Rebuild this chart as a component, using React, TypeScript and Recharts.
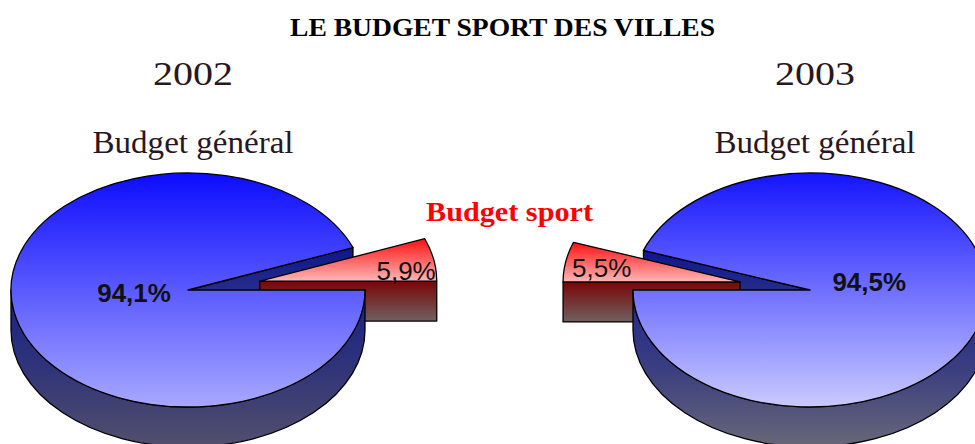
import React from "react";
import { PieChart, Pie } from "recharts";

const W = 975;
const H = 444;

// data
const years = ["2002", "2003"];
const sportShare = [5.9, 5.5];
const generalShare = [94.1, 94.5];
const sliceNames = ["Budget sport", "Budget général"];

// fake 3D: ellipse squash and wall depth
const TILT = 0.661;
const DEPTH = 40;

const charts = [
  {
    cx: 188, startAngle: 0, endAngle: 360, explode: 73,
    top: "topL", wall: "wallL", face: "faceL",
    labelR: 0.31, labelDy: 5, sportPad: 1, sportDy: -1,
  },
  {
    cx: 810, startAngle: 180, endAngle: -180, explode: 71,
    top: "topR", wall: "wallR", face: "faceR",
    labelR: 0.34, labelDy: -6, sportPad: 9, sportDy: -5,
  },
];

const rad = (d: number) => (d * Math.PI) / 180;
const fmt = (v: number) => v.toFixed(1).replace(".", ",") + "%";

const pt = (x0: number, y0: number, rx: number, t: number) => [
  x0 + rx * Math.cos(rad(t)),
  y0 - rx * TILT * Math.sin(rad(t)),
];

function topPath(x0: number, y0: number, rx: number, a: number, b: number) {
  const [x1, y1] = pt(x0, y0, rx, a);
  const [x2, y2] = pt(x0, y0, rx, b);
  const large = b - a > 180 ? 1 : 0;
  return `M${x0},${y0} L${x1},${y1} A${rx},${rx * TILT} 0 ${large} 0 ${x2},${y2} Z`;
}

function facePath(x0: number, y0: number, rx: number, t: number) {
  const [x1, y1] = pt(x0, y0, rx, t);
  return `M${x0},${y0} L${x1},${y1} L${x1},${y1 + DEPTH} L${x0},${y0 + DEPTH} Z`;
}

function wallPaths(x0: number, y0: number, rx: number, a: number, b: number) {
  const out: string[] = [];
  const ry = rx * TILT;
  for (const k of [-1, 0, 1]) {
    const lo = Math.max(a, 180 + 360 * k);
    const hi = Math.min(b, 360 + 360 * k);
    if (hi - lo > 0.01) {
      const [x1, y1] = pt(x0, y0, rx, lo);
      const [x2, y2] = pt(x0, y0, rx, hi);
      out.push(
        `M${x1},${y1} A${rx},${ry} 0 0 0 ${x2},${y2} L${x2},${y2 + DEPTH} A${rx},${ry} 0 0 1 ${x1},${y1 + DEPTH} Z`
      );
    }
  }
  return out;
}

const edge = { stroke: "#000", strokeWidth: 1.3, strokeLinejoin: "round" as const };

// layer: "back" = cut faces of the big slice, "sport" = exploded slice, "front" = big slice wall + top
const makeLabel = (layer: string, cfg: (typeof charts)[number]) => (props: any) => {
  const { cx, cy, outerRadius, startAngle, endAngle, midAngle, value, index } = props;
  const isSport = index === 0;
  if ((layer === "sport") !== isSport) return <g />;
  const a = Math.min(startAngle, endAngle);
  const b = Math.max(startAngle, endAngle);
  const rx = outerRadius;
  let x0 = cx;
  let y0 = cy;
  if (isSport) {
    x0 = cx + cfg.explode * Math.cos(rad(midAngle));
    y0 = cy - cfg.explode * TILT * Math.sin(rad(midAngle));
  }
  const faces: React.ReactNode[] = [];
  if (Math.cos(rad(a)) > 0.001)
    faces.push(<path key="fa" d={facePath(x0, y0, rx, a)} fill={`url(#${isSport ? "sportFace" : cfg.face})`} {...edge} />);
  if (Math.cos(rad(b)) < -0.001)
    faces.push(<path key="fb" d={facePath(x0, y0, rx, b)} fill={`url(#${isSport ? "sportFace" : cfg.face})`} {...edge} />);

  if (layer === "back") return <g>{faces}</g>;

  if (layer === "sport") {
    const dir = Math.cos(rad(midAngle)) > 0 ? 1 : -1;
    return (
      <g>
        {faces}
        <path d={topPath(x0, y0, rx, a, b)} fill="url(#sportTop)" {...edge} />
        <text
          x={x0 + dir * (rx - cfg.sportPad)}
          y={y0 + cfg.sportDy}
          textAnchor={dir > 0 ? "end" : "start"}
          fontFamily="Liberation Sans, Arial, sans-serif"
          fontSize={26}
          fill="#111"
        >
          {fmt(value)}
        </text>
      </g>
    );
  }

  const lx = x0 + cfg.labelR * rx * Math.cos(rad(midAngle));
  const ly = y0 - cfg.labelR * rx * TILT * Math.sin(rad(midAngle));
  return (
    <g>
      {wallPaths(x0, y0, rx, a, b).map((d, i) => (
        <path key={i} d={d} fill={`url(#${cfg.wall})`} {...edge} />
      ))}
      <path d={topPath(x0, y0, rx, a, b)} fill={`url(#${cfg.top})`} {...edge} />
      <text
        x={lx}
        y={ly + cfg.labelDy}
        textAnchor="middle"
        fontFamily="Liberation Sans, Arial, sans-serif"
        fontWeight="bold"
        fontSize={26}
        fill="#111"
      >
        {fmt(value)}
      </text>
    </g>
  );
};

const grad = (id: string, stops: [number, string][]) => (
  <linearGradient id={id} x1="0" y1="0" x2="0" y2="1">
    {stops.map(([o, c]) => (
      <stop key={o} offset={o} stopColor={c} />
    ))}
  </linearGradient>
);

export default function App() {
  const datasets = years.map((_, i) => [
    { name: sliceNames[0], value: sportShare[i] },
    { name: sliceNames[1], value: generalShare[i] },
  ]);

  return (
    <div style={{ position: "fixed", left: 0, top: 0, width: W, height: H, background: "#fff", overflow: "hidden" }}>
      <PieChart width={W} height={H} margin={{ top: 0, right: 0, bottom: 0, left: 0 }}>
        {charts.flatMap((cfg, i) =>
          ["back", "sport", "front"].map((layer) => (
            <Pie
              key={`${i}-${layer}`}
              data={datasets[i]}
              dataKey="value"
              nameKey="name"
              cx={cfg.cx}
              cy={290}
              outerRadius={177}
              startAngle={cfg.startAngle}
              endAngle={cfg.endAngle}
              fill="none"
              stroke="none"
              label={makeLabel(layer, cfg)}
              labelLine={false}
              isAnimationActive={false}
            />
          ))
        )}
      </PieChart>
      <svg width={W} height={H} style={{ position: "absolute", left: 0, top: 0, pointerEvents: "none" }}>
        <defs>
          {grad("topL", [[0, "#0c0cff"], [1, "#a8a8ff"]])}
          {grad("topR", [[0, "#1414ff"], [1, "#cacaff"]])}
          {grad("wallL", [[0, "#18208a"], [0.5, "#303478"], [1, "#52506c"]])}
          {grad("wallR", [[0, "#20288e"], [0.5, "#3a3e80"], [1, "#686878"]])}
          {grad("faceL", [[0, "#0e168e"], [1, "#3c4284"]])}
          {grad("faceR", [[0, "#0e168e"], [1, "#3c4284"]])}
          {grad("sportTop", [[0, "#ff1010"], [1, "#ffb6b6"]])}
          {grad("sportFace", [[0, "#780606"], [1, "#706060"]])}
        </defs>
        <text x={502.5} y={36} textAnchor="middle" fontFamily="Liberation Serif, Times New Roman, serif" fontWeight="bold" fontSize={26} textLength={425} lengthAdjust="spacingAndGlyphs" fill="#000">
          LE BUDGET SPORT DES VILLES
        </text>
        {years.map((y, i) => (
          <text key={y} x={charts[i].cx + 5} y={85} textAnchor="middle" fontFamily="Liberation Serif, Times New Roman, serif" fontSize={34} textLength={80} lengthAdjust="spacingAndGlyphs" fill="#2a1620">
            {y}
          </text>
        ))}
        {years.map((y, i) => (
          <text key={`g${y}`} x={charts[i].cx + 5} y={153} textAnchor="middle" fontFamily="Liberation Serif, Times New Roman, serif" fontSize={32} textLength={201} lengthAdjust="spacingAndGlyphs" fill="#2a1620">
            {sliceNames[1]}
          </text>
        ))}
        <text x={509.5} y={221} textAnchor="middle" fontFamily="Liberation Serif, Times New Roman, serif" fontWeight="bold" fontSize={28} textLength={167} lengthAdjust="spacingAndGlyphs" fill="#ff0000">
          {sliceNames[0]}
        </text>
      </svg>
    </div>
  );
}
